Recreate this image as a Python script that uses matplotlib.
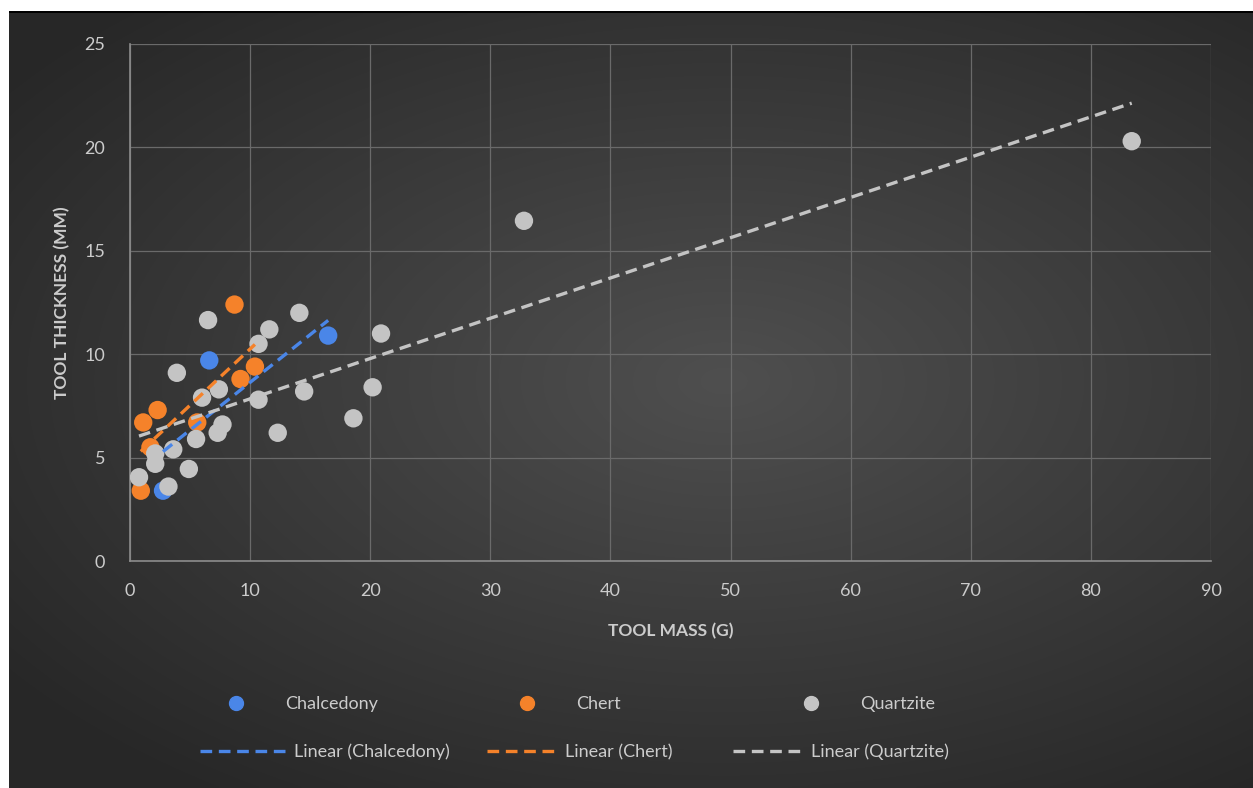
import numpy as np
import matplotlib.pyplot as plt
from matplotlib.lines import Line2D

# tool mass (g) / tool thickness (mm)
chal_mass = [2.75, 6.6, 16.5]
chal_thick = [3.4, 9.7, 10.9]

chert_mass = [0.9, 1.1, 1.7, 2.3, 5.6, 8.7, 9.2, 10.4]
chert_thick = [3.4, 6.7, 5.5, 7.3, 6.7, 12.4, 8.8, 9.4]

quartz_mass = [0.75, 2.1, 2.1, 3.2, 3.6, 3.9, 4.9, 5.5, 6.0, 6.5, 7.3, 7.7,
               7.4, 10.7, 10.7, 11.6, 12.3, 14.1, 14.5, 18.6, 20.2, 20.9,
               32.8, 83.4]
quartz_thick = [4.05, 5.2, 4.7, 3.6, 5.4, 9.1, 4.45, 5.9, 7.9, 11.65, 6.2, 6.6,
                8.3, 10.5, 7.8, 11.2, 6.2, 12.0, 8.2, 6.9, 8.4, 11.0,
                16.45, 20.3]

series_names = ["Chalcedony", "Chert", "Quartzite"]
series_colors = ["#4a86e8", "#f5822a", "#c4c4c4"]

W, H = 1253, 788
fig = plt.figure(figsize=(W / 100, H / 100), dpi=100, facecolor="white")
plt.rcParams["font.family"] = ["Lato", "DejaVu Sans"]

# dark radial gradient background (white strip left/top, thin black line on top)
bg = fig.add_axes([9 / W, 0, (W - 9) / W, (H - 13) / H])
bg.set_axis_off()
gx, gy = np.meshgrid(np.linspace(-1, 1, 400), np.linspace(-1, 1, 300))
r = np.sqrt(((gx - 0.15) / 1.1) ** 2 + ((gy + 0.05) / 1.0) ** 2)
shade = 0.31 - 0.155 * np.clip(r, 0, 1.3) / 1.3
bg.imshow(np.dstack([shade] * 3), aspect="auto", extent=[0, 1, 0, 1], interpolation="bilinear")
fig.add_artist(plt.Rectangle((9 / W, (H - 13) / H), 1, 2 / H, transform=fig.transFigure,
                             color="black", lw=0))

ax = fig.add_axes([130 / W, (H - 561) / H, 1081 / W, 517 / H])
ax.patch.set_alpha(0)

txt = "#cccccc"
grid = "#6a6a6a"

data = [(chal_mass, chal_thick), (chert_mass, chert_thick), (quartz_mass, quartz_thick)]
for (x, y), c in zip(data, series_colors):
    ax.scatter(x, y, s=175, color=c, edgecolors="none", zorder=3)

for (x, y), c in zip(data, series_colors):
    k, b = np.polyfit(x, y, 1)
    xs = np.array([min(x), max(x)])
    ax.plot(xs, k * xs + b, color=c, lw=2.4, ls=(0, (3.5, 2)), zorder=4)

ax.set_xlim(0, 90)
ax.set_ylim(0, 25)
ax.set_xticks(range(0, 91, 10))
ax.set_yticks(range(0, 26, 5))
ax.grid(True, color=grid, lw=0.9)
ax.set_axisbelow(True)
for s in ["top", "right"]:
    ax.spines[s].set_visible(False)
for s in ["left", "bottom"]:
    ax.spines[s].set_color("#8c8c8c")
    ax.spines[s].set_linewidth(1.2)
ax.tick_params(length=0, colors=txt, labelsize=13)
ax.tick_params(axis="x", pad=16)
ax.tick_params(axis="y", pad=18)

ax.set_xlabel("TOOL MASS (G)", color=txt, fontsize=12.5, fontweight="bold", labelpad=17)
ax.set_ylabel("TOOL THICKNESS (MM)", color=txt, fontsize=12.5, fontweight="bold", labelpad=10)

# legend laid out like the Excel one, entry by entry
row1 = [240, 531, 815]
row2 = [200, 487, 733]
for i, (name, c) in enumerate(zip(series_names, series_colors)):
    h = Line2D([], [], ls="none", marker="o", ms=10, color=c)
    fig.legend(handles=[h], labels=[name], loc="center left", frameon=False,
               bbox_to_anchor=((row1[i] - 22) / W, (H - 704) / H),
               labelcolor=txt, fontsize=13, handletextpad=1.7, borderpad=0,
               borderaxespad=0)
    h2 = Line2D([], [], color=c, lw=2.4, ls=(0, (3.5, 2)))
    fig.legend(handles=[h2], labels=["Linear (" + name + ")"], loc="center left",
               frameon=False, bbox_to_anchor=(row2[i] / W, (H - 752) / H),
               labelcolor=txt, fontsize=13, handlelength=4.8 if i == 0 else 3.9,
               handletextpad=0.4, borderpad=0, borderaxespad=0)

fig.savefig("out.png", dpi=100, facecolor="white")
